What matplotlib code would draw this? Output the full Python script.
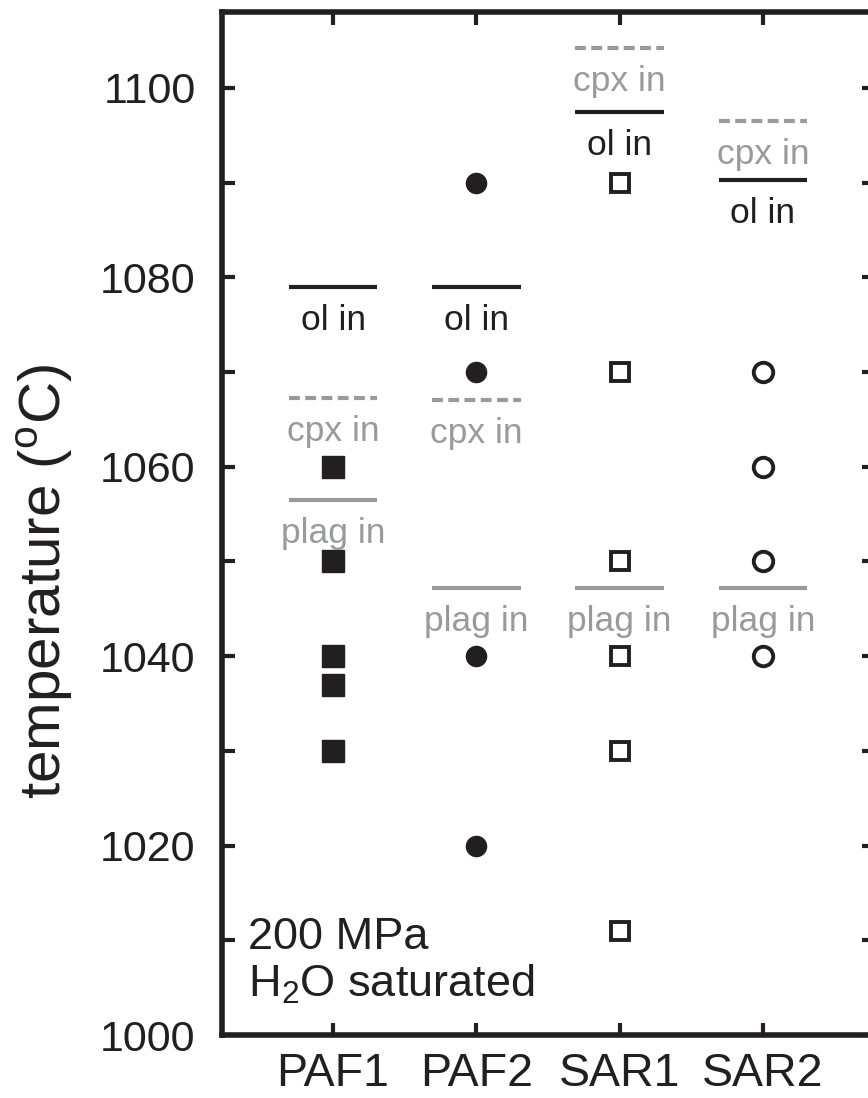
import matplotlib.pyplot as plt
from matplotlib.ticker import MultipleLocator

# starting compositions
samples = ['PAF1', 'PAF2', 'SAR1', 'SAR2']

# run temperatures (°C) for each composition
paf1_T = [1060, 1050, 1040, 1037, 1030]
paf2_T = [1090, 1070, 1040, 1020]
sar1_T = [1090, 1070, 1050, 1040, 1030, 1011]
sar2_T = [1070, 1060, 1050, 1040]

# phase-in temperatures (°C), one per composition
ol_in = [1079, 1079, 1097.4, 1090.3]
cpx_in = [1067.3, 1067, 1104.2, 1096.5]
plag_in = [1056.5, 1047.2, 1047.2, 1047.2]

BLACK = '#231f20'
GREY = '#999a9c'
FONT = ['Liberation Sans', 'DejaVu Sans']
plt.rcParams['font.family'] = FONT
plt.rcParams['mathtext.fontset'] = 'custom'
plt.rcParams['mathtext.rm'] = 'Liberation Sans'

W, H = 868, 1098
fig = plt.figure(figsize=(W / 100, H / 100), dpi=100)
ax = fig.add_axes([222 / W, (H - 1035) / H, (874 - 222) / W, (1035 - 12) / H])

xs = range(1, len(samples) + 1)
ax.plot([1] * len(paf1_T), paf1_T, ls='none', marker='s', ms=15.5,
        mfc=BLACK, mec=BLACK)
ax.plot([2] * len(paf2_T), paf2_T, ls='none', marker='o', ms=14.5,
        mfc=BLACK, mec=BLACK)
ax.plot([3] * len(sar1_T), sar1_T, ls='none', marker='s', ms=13.5,
        mfc='white', mec=BLACK, mew=2.8)
ax.plot([4] * len(sar2_T), sar2_T, ls='none', marker='o', ms=14,
        mfc='white', mec=BLACK, mew=2.8)

hw = 0.31
for x, t_ol, t_cpx, t_pl in zip(xs, ol_in, cpx_in, plag_in):
    ax.plot([x - hw, x + hw], [t_ol, t_ol], color=BLACK, lw=3, solid_capstyle='butt')
    ax.plot([x - hw, x + hw], [t_cpx, t_cpx], color=GREY, lw=3,
            dashes=(2.6, 1.3))
    ax.plot([x - hw, x + hw], [t_pl, t_pl], color=GREY, lw=3, solid_capstyle='butt')
    for t, s, c in [(t_ol, 'ol in', BLACK), (t_cpx, 'cpx in', GREY),
                    (t_pl, 'plag in', GREY)]:
        ax.annotate(s, (x, t), xytext=(0, -31), textcoords='offset points',
                    ha='center', va='baseline', color=c, fontsize=25.5)

ax.text(0.04, 0.084, '200 MPa', transform=ax.transAxes, fontsize=32.5,
        va='baseline', ha='left', color=BLACK)
ax.text(0.04, 0.037, r'H$_2$O saturated', transform=ax.transAxes, fontsize=32.5,
        va='baseline', ha='left', color=BLACK)

ax.set_xlim(0.225, 4.775)
ax.set_ylim(1000, 1108)
ax.set_xticks(list(xs))
ax.set_xticklabels(samples, fontsize=33.5, color=BLACK)
ax.yaxis.set_major_locator(MultipleLocator(20))
ax.yaxis.set_minor_locator(MultipleLocator(10))
for lab in ax.get_yticklabels():
    lab.set_fontsize(31)
    lab.set_color(BLACK)

ax.tick_params(which='both', direction='in', length=9, width=3, color=BLACK,
               top=True, right=True)
ax.tick_params(axis='x', pad=12.5)
ax.tick_params(axis='y', pad=19)
for sp in ax.spines.values():
    sp.set_linewidth(4)
    sp.set_color(BLACK)

ax.set_ylabel('temperature ($^{\\rm o}$C)', fontsize=42, color=BLACK)
ax.yaxis.set_label_coords(-0.226, 0.443)

fig.savefig('out.png', dpi=100)
